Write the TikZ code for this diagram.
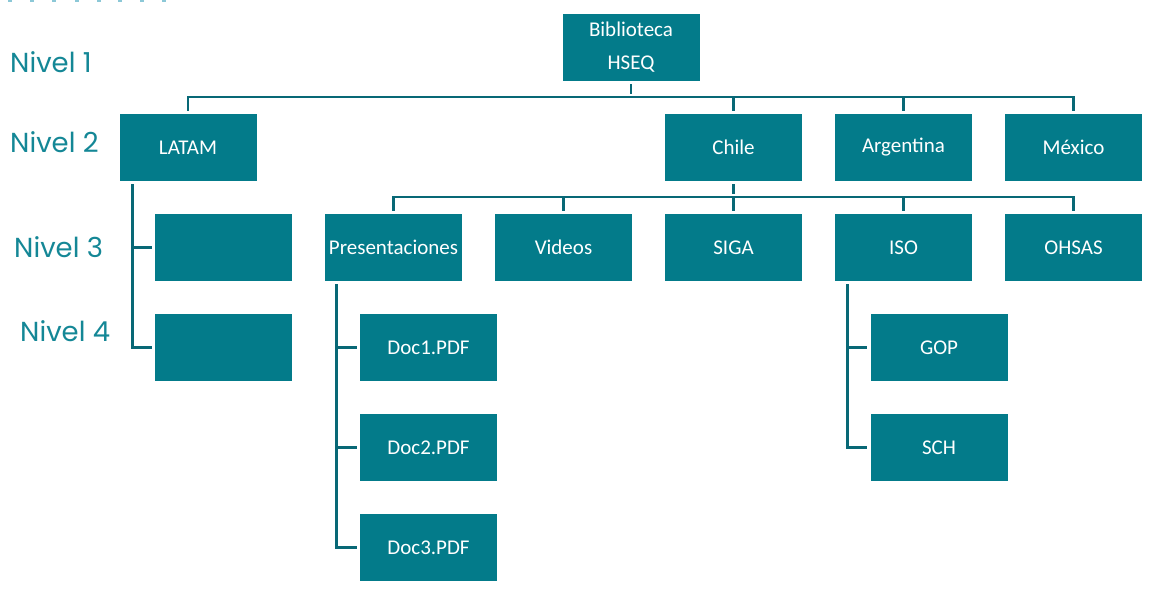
\documentclass[tikz,border=0pt]{standalone}
\usepackage{fontspec}
\setmainfont{Carlito}
\newfontfamily\nivfont{Poppins}
\definecolor{boxc}{RGB}{3,123,138}
\definecolor{linec}{RGB}{8,104,118}
\definecolor{nivc}{RGB}{20,135,150}
\definecolor{dotc}{RGB}{140,200,215}
\begin{document}
\begin{tikzpicture}[x=1pt,y=-1pt,
 box/.style={fill=boxc, minimum width=137pt, minimum height=67pt, inner sep=0pt, text=white, font=\fontsize{21}{33}\selectfont, align=center},
 conn/.style={draw=linec, line width=2.8pt, shorten <=3pt, shorten >=3pt},
 niv/.style={text=nivc, font=\nivfont\fontsize{27.5}{32}\selectfont, anchor=west, inner sep=0pt}]
\useasboundingbox (0,0) rectangle (1165,595);
% top-left marks
\foreach \x in {8,30,52,75,97,118,140,162}
  \fill[dotc] (\x,0) rectangle ++(4,2);
% level labels
\node[niv] (n1) at (10,62) {Nivel 1};
\node[niv] (n2) at (10,142) {Nivel 2};
\node[niv] (n3) at (14,247) {Nivel 3};
\node[niv] (n4) at (20,331) {Nivel 4};
% boxes
\node[box] (top) at (631,47.5) {Biblioteca\\HSEQ};
\node[box] (latam) at (188,147.5) {LATAM};
\node[box] (chile) at (733.5,147.5) {Chile};
\node[box] (arg) at (903.5,147.5) {Argentina};
\node[box] (mex) at (1073.5,147.5) {México};
\node[box] (l3) at (223.5,247.5) {};
\node[box] (l4) at (223.5,347.5) {};
\node[box] (pres) at (393.5,247.5) {Presentaciones};
\node[box] (vid) at (563.5,247.5) {Videos};
\node[box] (siga) at (733.5,247.5) {SIGA};
\node[box] (iso) at (903.5,247.5) {ISO};
\node[box] (ohsas) at (1073.5,247.5) {OHSAS};
\node[box] (d1) at (428.5,347.5) {Doc1.PDF};
\node[box] (d2) at (428.5,447.5) {Doc2.PDF};
\node[box] (d3) at (428.5,547.5) {Doc3.PDF};
\node[box] (gop) at (939,347.5) {GOP};
\node[box] (sch) at (939,447.5) {SCH};
% level 2 connectors
\coordinate (b2) at (631,97);
\draw[conn] (top.south) -- (b2);
\draw[conn, shorten <=0pt] (b2) -| (latam.north);
\draw[conn, shorten <=0pt] (b2) -| (chile.north);
\draw[conn, shorten <=0pt] (b2) -| (arg.north);
\draw[conn, shorten <=0pt] (b2) -| (mex.north);
% level 3 connectors
\coordinate (b3) at (733.5,197);
\draw[conn] (chile.south) -- (b3);
\draw[conn, shorten <=0pt] (b3) -| (pres.north);
\draw[conn, shorten <=0pt] (b3) -| (vid.north);
\draw[conn, shorten <=0pt] (b3) -- (siga.north);
\draw[conn, shorten <=0pt] (b3) -| (iso.north);
\draw[conn, shorten <=0pt] (b3) -| (ohsas.north);
% LATAM children
\draw[conn] ([xshift=13pt]latam.south west) |- (l3.west);
\draw[conn] ([xshift=13pt]latam.south west) |- (l4.west);
% Presentaciones children
\draw[conn] ([xshift=12pt]pres.south west) |- (d1.west);
\draw[conn] ([xshift=12pt]pres.south west) |- (d2.west);
\draw[conn] ([xshift=12pt]pres.south west) |- (d3.west);
% ISO children
\draw[conn] ([xshift=13pt]iso.south west) |- (gop.west);
\draw[conn] ([xshift=13pt]iso.south west) |- (sch.west);
\end{tikzpicture}
\end{document}
